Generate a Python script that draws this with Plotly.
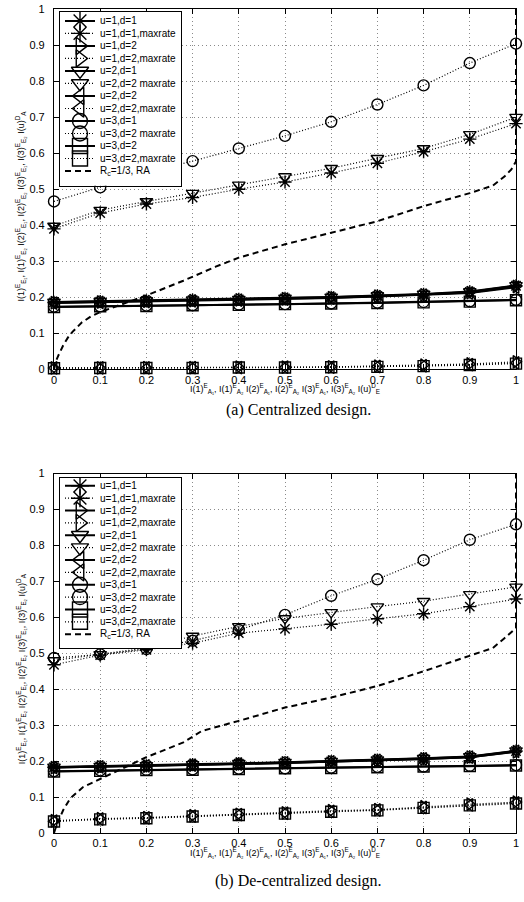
import plotly.graph_objects as go

# ---------------- data ----------------
x_vals = [0, 0.1, 0.2, 0.3, 0.4, 0.5, 0.6, 0.7, 0.8, 0.9, 1.0]
tick_vals = [0, 0.1, 0.2, 0.3, 0.4, 0.5, 0.6, 0.7, 0.8, 0.9, 1.0]
tick_text = ["0", "0.1", "0.2", "0.3", "0.4", "0.5", "0.6", "0.7", "0.8", "0.9", "1"]

series_names = ["u=1,d=1", "u=1,d=1,maxrate", "u=1,d=2", "u=1,d=2,maxrate",
                "u=2,d=1", "u=2,d=2 maxrate", "u=2,d=2", "u=2,d=2,maxrate",
                "u=3,d=1", "u=3,d=2 maxrate", "u=3,d=2", "u=3,d=2,maxrate"]
ra_name = "R<sub>c</sub>=1/3, RA"

# (a) Centralized design
a_u1d1 = [0.186, 0.188, 0.190, 0.192, 0.194, 0.197, 0.200, 0.204, 0.208, 0.215, 0.232]
a_u1d1_max = [0.390, 0.434, 0.459, 0.477, 0.500, 0.520, 0.545, 0.572, 0.604, 0.639, 0.682]
a_u1d2 = [0.185, 0.187, 0.189, 0.191, 0.193, 0.196, 0.199, 0.203, 0.207, 0.213, 0.230]
a_u1d2_max = [0.004, 0.004, 0.005, 0.005, 0.006, 0.006, 0.007, 0.009, 0.012, 0.015, 0.021]
a_u2d1 = [0.187, 0.189, 0.191, 0.193, 0.195, 0.198, 0.201, 0.205, 0.209, 0.216, 0.233]
a_u2d2_max = [0.398, 0.442, 0.466, 0.489, 0.512, 0.535, 0.558, 0.586, 0.613, 0.652, 0.700]
a_u2d2 = [0.184, 0.186, 0.188, 0.190, 0.192, 0.195, 0.198, 0.202, 0.206, 0.212, 0.228]
a_u2d2_maxl = [0.004, 0.004, 0.004, 0.005, 0.005, 0.006, 0.006, 0.008, 0.010, 0.013, 0.018]
a_u3d1 = [0.174, 0.175, 0.177, 0.178, 0.180, 0.181, 0.183, 0.185, 0.187, 0.189, 0.193]
a_u3d2_max = [0.466, 0.505, 0.545, 0.578, 0.613, 0.648, 0.687, 0.735, 0.788, 0.850, 0.904]
a_u3d2 = [0.173, 0.175, 0.176, 0.178, 0.179, 0.181, 0.183, 0.184, 0.186, 0.188, 0.192]
a_u3d2_maxl = [0.003, 0.004, 0.004, 0.004, 0.005, 0.005, 0.006, 0.007, 0.009, 0.012, 0.016]
a_ra_x = [0, 0.005, 0.01, 0.02, 0.03, 0.04, 0.06, 0.08, 0.1, 0.14, 0.2, 0.28, 0.35, 0.4,
          0.5, 0.6, 0.7, 0.8, 0.9, 0.95, 0.975, 0.99, 1.0, 1.0]
a_ra_y = [0, 0.025, 0.04, 0.067, 0.088, 0.104, 0.13, 0.147, 0.159, 0.177, 0.205, 0.246, 0.285, 0.31,
          0.347, 0.379, 0.411, 0.453, 0.489, 0.51, 0.535, 0.555, 0.577, 1.0]

# (b) De-centralized design
b_u1d1 = [0.183, 0.185, 0.187, 0.190, 0.193, 0.196, 0.199, 0.203, 0.207, 0.212, 0.228]
b_u1d1_max = [0.468, 0.495, 0.510, 0.528, 0.556, 0.568, 0.581, 0.596, 0.610, 0.630, 0.651]
b_u1d2 = [0.182, 0.184, 0.186, 0.189, 0.192, 0.195, 0.198, 0.202, 0.206, 0.211, 0.226]
b_u1d2_max = [0.034, 0.040, 0.043, 0.048, 0.052, 0.056, 0.062, 0.065, 0.073, 0.080, 0.086]
b_u2d1 = [0.184, 0.186, 0.188, 0.191, 0.194, 0.197, 0.200, 0.204, 0.208, 0.213, 0.229]
b_u2d2_max = [0.480, 0.497, 0.515, 0.548, 0.575, 0.597, 0.614, 0.630, 0.645, 0.664, 0.685]
b_u2d2 = [0.182, 0.184, 0.187, 0.189, 0.192, 0.195, 0.198, 0.202, 0.206, 0.211, 0.227]
b_u2d2_maxl = [0.033, 0.039, 0.042, 0.047, 0.051, 0.055, 0.060, 0.064, 0.071, 0.078, 0.084]
b_u3d1 = [0.172, 0.174, 0.176, 0.177, 0.179, 0.180, 0.182, 0.184, 0.185, 0.187, 0.189]
b_u3d2_max = [0.487, 0.497, 0.512, 0.535, 0.565, 0.607, 0.660, 0.706, 0.759, 0.816, 0.859]
b_u3d2 = [0.171, 0.173, 0.175, 0.176, 0.178, 0.180, 0.181, 0.183, 0.185, 0.186, 0.188]
b_u3d2_maxl = [0.032, 0.038, 0.041, 0.046, 0.050, 0.054, 0.059, 0.063, 0.070, 0.077, 0.082]
b_ra_x = [0, 0.005, 0.02, 0.035, 0.063, 0.1, 0.136, 0.2, 0.28, 0.32, 0.4, 0.5, 0.6, 0.7,
          0.8, 0.9, 0.95, 0.975, 0.99, 1.0, 1.0]
b_ra_y = [0, 0.02, 0.064, 0.096, 0.128, 0.151, 0.172, 0.211, 0.252, 0.284, 0.312, 0.349, 0.377, 0.409,
          0.45, 0.492, 0.515, 0.542, 0.56, 0.57, 1.0]

panel_a = [a_u1d1, a_u1d1_max, a_u1d2, a_u1d2_max, a_u2d1, a_u2d2_max,
           a_u2d2, a_u2d2_maxl, a_u3d1, a_u3d2_max, a_u3d2, a_u3d2_maxl]
panel_b = [b_u1d1, b_u1d1_max, b_u1d2, b_u1d2_max, b_u2d1, b_u2d2_max,
           b_u2d2, b_u2d2_maxl, b_u3d1, b_u3d2_max, b_u3d2, b_u3d2_maxl]

# ---------------- styles ----------------
symbols = ["asterisk-open", "asterisk-open", "triangle-right-open", "triangle-right-open",
           "triangle-down-open", "triangle-down-open", "triangle-left-open", "triangle-left-open",
           "circle-open", "circle-open", "square-open", "square-open"]
solid = [True, False] * 6

W, H = 524, 902
ML, MR, MT, MB = 54, 8, 3, 69
PW, PH = W - ML - MR, H - MT - MB


def px_x(p):
    return (p - ML) / PW


def px_y(p):
    return (H - MB - p) / PH


FONT = "Liberation Sans, Arial, sans-serif"
SERIF = "Liberation Serif, Times New Roman, serif"
DOT = "1px,2px"

fig = go.Figure()


def line_style(is_solid):
    if is_solid:
        return dict(color="black", width=2)
    return dict(color="black", width=1.2, dash=DOT)


def add_panel(data, ra_x, ra_y, xa, ya):
    for vals, sym, sl in zip(data, symbols, solid):
        fig.add_trace(go.Scatter(
            x=x_vals, y=vals, mode="lines+markers", xaxis=xa, yaxis=ya,
            line=line_style(sl), cliponaxis=False, showlegend=False,
            marker=dict(symbol=sym, size=11, color="black", line=dict(width=1.4, color="black"))))
    fig.add_trace(go.Scatter(
        x=ra_x, y=ra_y, mode="lines", xaxis=xa, yaxis=ya, showlegend=False,
        line=dict(color="black", width=2, dash="6px,4px")))


def add_legend(xa, ya):
    for i, (sym, sl) in enumerate(zip(symbols, solid)):
        fig.add_trace(go.Scatter(x=[5, 35], y=[i, i], mode="lines", xaxis=xa, yaxis=ya,
                                 line=line_style(sl), showlegend=False, hoverinfo="skip"))
        fig.add_trace(go.Scatter(x=[20], y=[i], mode="markers", xaxis=xa, yaxis=ya,
                                 showlegend=False, hoverinfo="skip",
                                 marker=dict(symbol=sym, size=15, color="black",
                                             line=dict(width=1.4, color="black"))))
    n = len(symbols)
    fig.add_trace(go.Scatter(x=[5, 35], y=[n, n], mode="lines", xaxis=xa, yaxis=ya,
                             line=dict(color="black", width=2, dash="6px,4px"),
                             showlegend=False, hoverinfo="skip"))
    for i, name in enumerate(series_names + [ra_name]):
        fig.add_annotation(x=38, y=i, xref=xa, yref=ya, text=name, showarrow=False,
                           xanchor="left", yanchor="middle",
                           font=dict(family=FONT, size=10, color="black"))


add_panel(panel_a, a_ra_x, a_ra_y, "x", "y")
add_panel(panel_b, b_ra_x, b_ra_y, "x2", "y2")
add_legend("x3", "y3")
add_legend("x4", "y4")

main_axis = dict(range=[0, 1], tickvals=tick_vals, ticktext=tick_text, ticks="inside", ticklen=5,
                 tickwidth=1, tickcolor="black", showline=True, linecolor="black", linewidth=1.2,
                 mirror="ticks", showgrid=True, gridcolor="#8a8a8a", gridwidth=1, griddash="1px,3px",
                 zeroline=False, tickfont=dict(family=FONT, size=11, color="black"), fixedrange=True)

top_dom = [px_y(366), 1.0]
bot_dom = [0.0, px_y(471)]

leg_axis = dict(showline=True, linecolor="black", linewidth=1.2, mirror=True, showgrid=False,
                zeroline=False, showticklabels=False, ticks="", fixedrange=True)

fig.update_layout(
    width=W, height=H, margin=dict(l=ML, r=MR, t=MT, b=MB),
    paper_bgcolor="white", plot_bgcolor="white",
    xaxis=dict(main_axis, domain=[0, 1], anchor="y"),
    yaxis=dict(main_axis, domain=top_dom, anchor="x", ticklabelstandoff=6),
    xaxis2=dict(main_axis, domain=[0, 1], anchor="y2"),
    yaxis2=dict(main_axis, domain=bot_dom, anchor="x2", ticklabelstandoff=6),
    xaxis3=dict(leg_axis, domain=[px_x(60), px_x(181)], range=[0, 121], anchor="y3"),
    yaxis3=dict(leg_axis, domain=[px_y(181), px_y(6)],
                range=[(181 - 15) / 12.6, (6 - 15) / 12.6], anchor="x3"),
    xaxis4=dict(leg_axis, domain=[px_x(60), px_x(181)], range=[0, 121], anchor="y4"),
    yaxis4=dict(leg_axis, domain=[px_y(647), px_y(475)],
                range=[(647 - 483.3) / 12.45, (475 - 483.3) / 12.45], anchor="x4"),
    showlegend=False,
)

xlab = ("I(1)<sup>E</sup><sub>A₁</sub>, I(1)<sup>E</sup><sub>A₂</sub> I(2)<sup>E</sup><sub>A₁</sub>, "
        "I(2)<sup>E</sup><sub>A₂</sub> I(3)<sup>E</sup><sub>A₁</sub>, I(3)<sup>E</sup><sub>A₂</sub> "
        "I(u)<sup>D</sup><sub>E</sub>")
ylab = ("I(1)<sup>E</sup><sub>E₁</sub>, I(1)<sup>E</sup><sub>E₂</sub> I(2)<sup>E</sup><sub>E₁</sub>, "
        "I(2)<sup>E</sup><sub>E₂</sub> I(3)<sup>E</sup><sub>E₁</sub>, I(3)<sup>E</sup><sub>E₂</sub> "
        "I(u)<sup>D</sup><sub>A</sub>")

for xl_y, yl_y, cap_y, cap in [(385, 202, 407, "(a) Centralized design."),
                               (853, 668, 881, "(b) De-centralized design.")]:
    fig.add_annotation(x=0.5, y=px_y(xl_y), xref="paper", yref="paper", text=xlab,
                       showarrow=False, xanchor="center", yanchor="middle",
                       font=dict(family=FONT, size=9, color="black"))
    fig.add_annotation(x=px_x(21), y=px_y(yl_y), xref="paper", yref="paper", text=ylab,
                       textangle=-90, showarrow=False, xanchor="center", yanchor="middle",
                       font=dict(family=FONT, size=9, color="black"))
    fig.add_annotation(x=px_x(298), y=px_y(cap_y), xref="paper", yref="paper", text=cap,
                       showarrow=False, xanchor="center", yanchor="middle",
                       font=dict(family=SERIF, size=16, color="black"))

fig.write_html("out.html", config={"displayModeBar": False},
               post_script="document.body.style.margin='0';document.body.style.padding='0';")
